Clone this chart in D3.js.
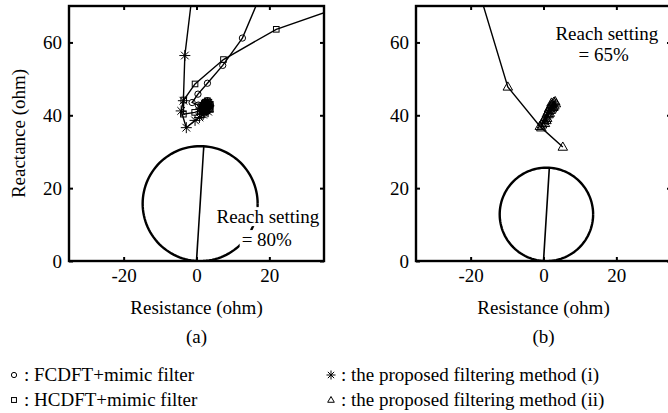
<!DOCTYPE html>
<meta charset="utf-8" />
<script src="https://d3js.org/d3.v7.min.js"></script>
<style>
  body { margin: 0; background: #fff; }
  svg text { font-family: "Liberation Serif", "Times New Roman", serif; font-size: 19px; fill: #000; }
</style>
<body>
<div id="my_dataviz"></div>
<script>
// axis ticks
var xTicks = [-20, 0, 20];
var yTicks = [0, 20, 40, 60];

// panel (a): trajectories [R, X] in ohm
var fcdftA = [[19.7, 78], [12.6, 61.2], [7.2, 53.7], [3, 48.8], [0.4, 45.8], [-1.2, 43.5], [0.5, 42.8],
  [2.2, 43.6], [3.4, 42.4], [2.6, 41.2], [1.4, 41.8], [2.8, 43.2], [3.8, 42.8], [2.4, 42], [1.8, 43],
  [3.2, 41.6], [2.6, 42.6], [1.6, 42.4], [3, 44], [3.6, 41.8], [2, 41.4], [2.4, 43.4], [3.4, 43.2],
  [2.8, 42.2], [2.2, 42.8]];
var hcdftA = [[42, 70.6], [21.9, 63.6], [7.4, 55.3], [-0.4, 48.6], [-3.5, 44.2], [-3.6, 40.3], [-0.5, 40.8],
  [1.5, 41.5], [2.5, 43.6], [3.6, 42.2], [2.2, 40.8], [1.2, 42.6], [3, 44], [3.8, 41.6], [2, 42.2], [2.8, 43],
  [3.4, 43.6], [1.8, 41], [2.6, 41.8], [3.8, 43], [2.2, 43.2], [3, 42.4], [1.6, 42], [2.8, 41.2]];
var methodIA = [[-0.6, 78], [-3.2, 56.4], [-3.6, 44], [-4.2, 41.2], [-2.8, 36.6], [-0.4, 38.6], [0.8, 39.4],
  [2, 40.6], [1.2, 41.8], [2.6, 42.4], [3.2, 41], [1.8, 40.2], [2.4, 43.2], [3.4, 42.6], [2.2, 41.6],
  [1.4, 40.4], [2.8, 41.8], [3, 43.4], [2, 42.4]];
// panel (b)
var methodIIB = [[-18.6, 77], [-9.8, 47.8], [-1, 37], [5.3, 31.3], [-0.6, 36.6], [-0.2, 38.2], [0.4, 37.8],
  [0.6, 39.6], [1, 39.2], [1.2, 41], [1.7, 40.6], [1.8, 42.2], [2.3, 41.8], [2.4, 43], [3, 42.6],
  [2.8, 43.6], [3.4, 43.2], [2.6, 42.4], [-0.4, 37.4], [0.2, 38.8], [0.8, 38.6], [0.9, 40.4],
  [1.4, 40.2], [1.5, 41.8], [2, 41.4], [2.1, 42.8], [2.7, 42.2], [3.2, 43.8], [2.2, 43.4]];

// mho circle: diameter from origin to reach point
var reachA = [2, 31.5];
var reachB = [1.6, 25.6];

var legendItems = [
  { sym: "circle", label: ": FCDFT+mimic filter" },
  { sym: "square", label: ": HCDFT+mimic filter" },
  { sym: "star", label: ": the proposed filtering method (i)" },
  { sym: "triangle", label: ": the proposed filtering method (ii)" }
];

var W = 668, H = 413;
var svg = d3.select("#my_dataviz").append("svg").attr("width", W).attr("height", H);

function drawMarker(g, sym, cx, cy, s) {
  if (sym === "circle") {
    g.append("circle").attr("cx", cx).attr("cy", cy).attr("r", s * 0.75)
      .attr("fill", "none").attr("stroke", "#000").attr("stroke-width", 1);
  } else if (sym === "square") {
    g.append("rect").attr("x", cx - s * 0.7).attr("y", cy - s * 0.7).attr("width", s * 1.4).attr("height", s * 1.4)
      .attr("fill", "none").attr("stroke", "#000").attr("stroke-width", 1);
  } else if (sym === "triangle") {
    g.append("path").attr("d", "M" + cx + "," + (cy - s) + "L" + (cx + s * 0.95) + "," + (cy + s * 0.65) +
      "L" + (cx - s * 0.95) + "," + (cy + s * 0.65) + "Z")
      .attr("fill", "none").attr("stroke", "#000").attr("stroke-width", 1);
  } else if (sym === "star") {
    var k = s * 0.7;
    g.append("path").attr("d", "M" + (cx - s) + "," + cy + "H" + (cx + s) + "M" + cx + "," + (cy - s) + "V" + (cy + s) +
      "M" + (cx - k) + "," + (cy - k) + "L" + (cx + k) + "," + (cy + k) +
      "M" + (cx - k) + "," + (cy + k) + "L" + (cx + k) + "," + (cy - k))
      .attr("fill", "none").attr("stroke", "#000").attr("stroke-width", 1);
  }
}

var panels = [
  { id: "a", x0: 69, x1: 324, series: [[fcdftA, "circle"], [hcdftA, "square"], [methodIA, "star"]],
    reach: reachA, reachText: ["Reach setting", "= 80%"], reachPos: [[19.6, 10.4], [19.3, 4.1]], yTitle: true },
  { id: "b", x0: 416, x1: 671, series: [[methodIIB, "triangle"]],
    reach: reachB, reachText: ["Reach setting", "= 65%"], reachPos: [[17.4, 60.6], [16.5, 54.8]], yTitle: false }
];

var y0 = 261, y1 = 6;

panels.forEach(function (p) {
  var x = d3.scaleLinear().domain([-35, 35]).range([p.x0, p.x1]);
  var y = d3.scaleLinear().domain([0, 70]).range([y0, y1]);
  var g = svg.append("g");

  // clip for plot area
  g.append("clipPath").attr("id", "clip" + p.id).append("rect")
    .attr("x", p.x0).attr("y", y1).attr("width", p.x1 - p.x0).attr("height", y0 - y1);
  var plot = g.append("g").attr("clip-path", "url(#clip" + p.id + ")");

  // mho circle
  var c = [p.reach[0] / 2, p.reach[1] / 2];
  var r = Math.sqrt(c[0] * c[0] + c[1] * c[1]);
  var circ = d3.range(0, 361, 3).map(function (a) {
    var t = a * Math.PI / 180;
    return [c[0] + r * Math.cos(t), c[1] + r * Math.sin(t)];
  });
  var line = d3.line().x(function (d) { return x(d[0]); }).y(function (d) { return y(d[1]); });
  plot.append("path").datum(circ).attr("d", line).attr("fill", "none").attr("stroke", "#000").attr("stroke-width", 2.4);
  plot.append("path").datum([[0, 0], p.reach]).attr("d", line).attr("fill", "none").attr("stroke", "#000").attr("stroke-width", 1.6);

  // trajectories
  p.series.forEach(function (s) {
    plot.append("path").datum(s[0]).attr("d", line).attr("fill", "none").attr("stroke", "#000").attr("stroke-width", 1.4);
    var size = s[1] === "circle" ? 4.2 : s[1] === "square" ? 4 : s[1] === "star" ? 5.5 : 5;
    s[0].forEach(function (d) { drawMarker(plot, s[1], x(d[0]), y(d[1]), size); });
  });

  // reach setting labels with white background
  p.reachText.forEach(function (t, i) {
    var tg = g.append("g");
    var txt = tg.append("text").attr("x", x(p.reachPos[i][0])).attr("y", y(p.reachPos[i][1]))
      .attr("text-anchor", "middle").text(t);
    var bb = txt.node().getBBox();
    tg.insert("rect", "text").attr("x", bb.x - 2).attr("y", bb.y + 1).attr("width", bb.width + 4).attr("height", bb.height - 2)
      .attr("fill", "#fff");
  });

  // axes with inward ticks
  var fmt = function (d) { return String(d); };
  var ax = g.append("g").attr("transform", "translate(0," + y0 + ")")
    .call(d3.axisBottom(x).tickValues(xTicks).tickSize(-4).tickPadding(8).tickFormat(fmt));
  var ay = g.append("g").attr("transform", "translate(" + p.x0 + ",0)")
    .call(d3.axisLeft(y).tickValues(yTicks).tickSize(-4).tickPadding(7).tickFormat(fmt));
  var at = g.append("g").attr("transform", "translate(0," + y1 + ")")
    .call(d3.axisTop(x).tickValues(xTicks).tickSize(-4).tickFormat(""));
  var ar = g.append("g").attr("transform", "translate(" + p.x1 + ",0)")
    .call(d3.axisRight(y).tickValues(yTicks).tickSize(-4).tickFormat(""));
  [ax, ay, at, ar].forEach(function (a) {
    a.select(".domain").remove();
    a.selectAll(".tick line").attr("stroke-width", 2);
  });

  g.append("rect").attr("x", p.x0).attr("y", y1).attr("width", p.x1 - p.x0).attr("height", y0 - y1)
    .attr("fill", "none").attr("stroke", "#000").attr("stroke-width", 2.4);

  // titles
  g.append("text").attr("x", x(0)).attr("y", 314).attr("text-anchor", "middle").text("Resistance (ohm)");
  g.append("text").attr("x", x(0)).attr("y", 343).attr("text-anchor", "middle").text("(" + p.id + ")");
  if (p.yTitle) {
    g.append("text").attr("transform", "translate(25," + (y0 + y1) / 2 + ") rotate(-90)")
      .attr("text-anchor", "middle").text("Reactance (ohm)");
  }
});

// legend
var lg = svg.append("g");
var lx = [14, 331], ly = [381, 406];
legendItems.forEach(function (it, i) {
  var col = Math.floor(i / 2), row = i % 2;
  drawMarker(lg, it.sym, lx[col], ly[row] - 6, it.sym === "star" ? 4.5 : 3.5);
  lg.append("text").attr("x", lx[col] + 10).attr("y", ly[row]).text(it.label);
});
</script>
</body>
